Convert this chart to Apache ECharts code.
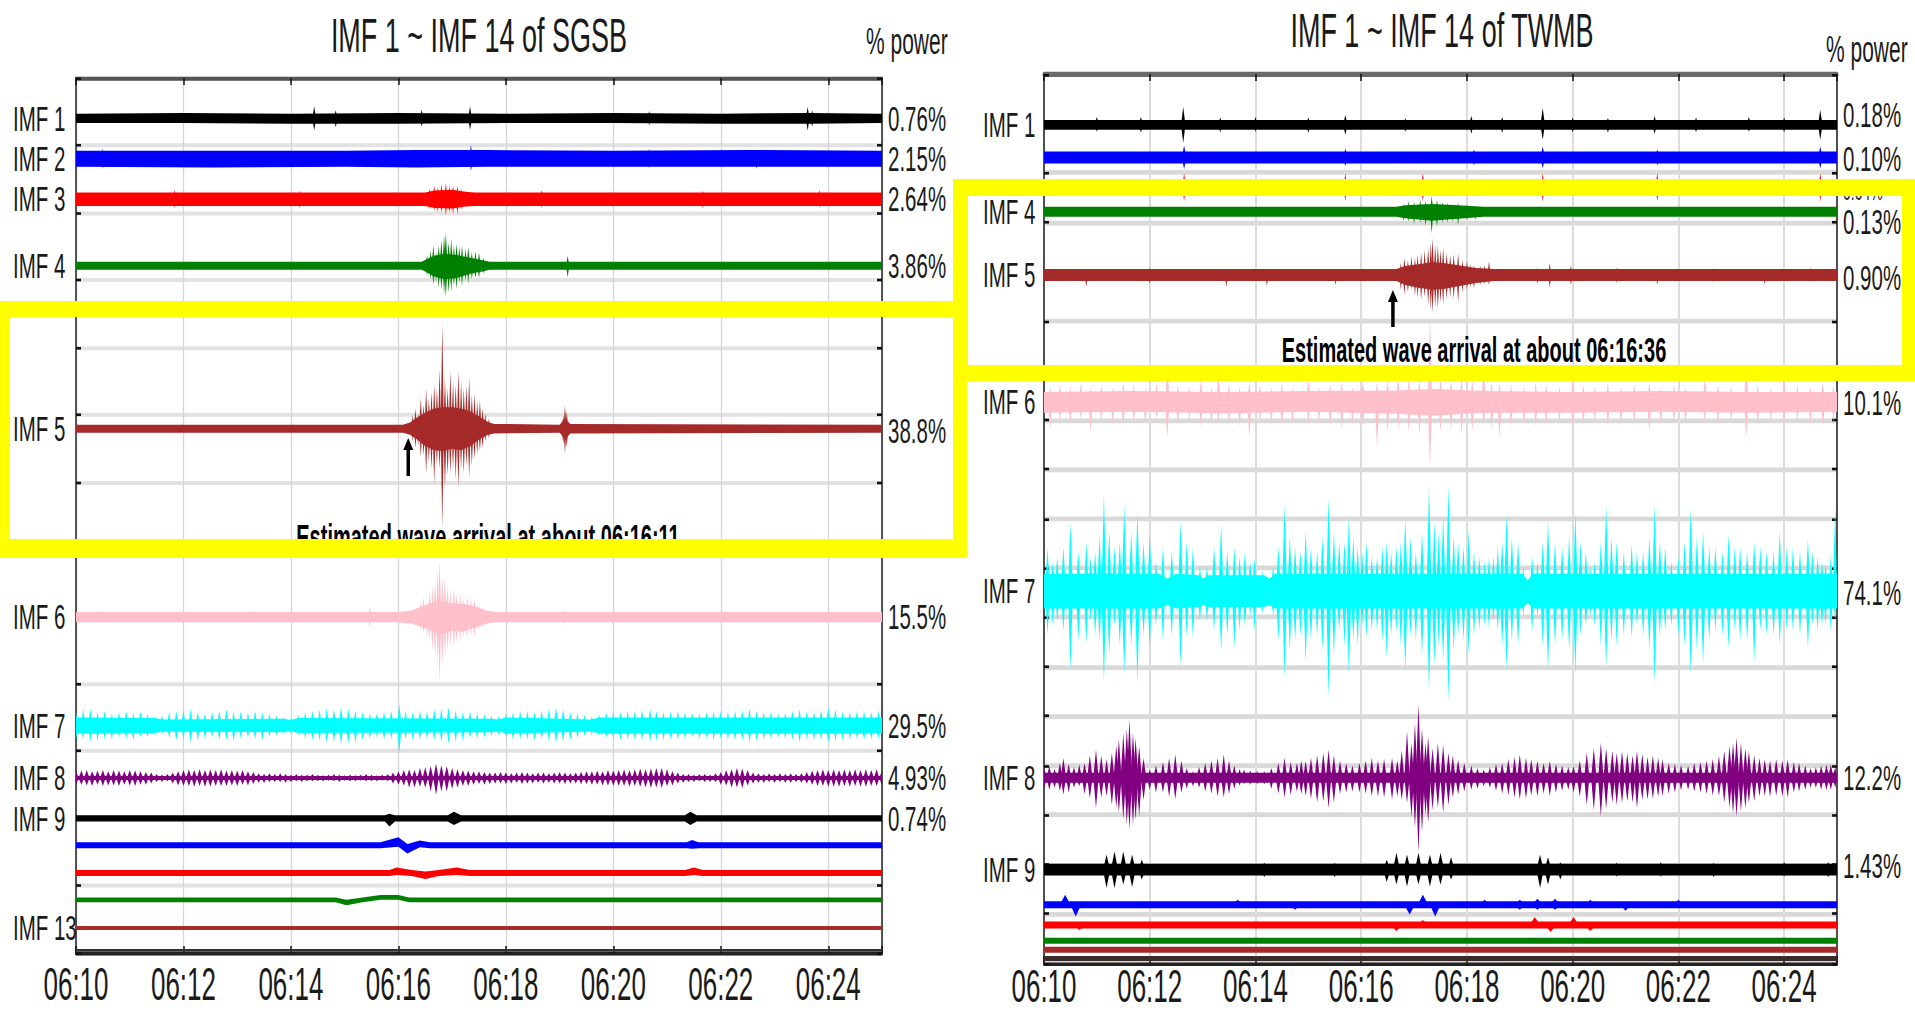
<!DOCTYPE html>
<html>
<head>
<meta charset="utf-8">
<script src="https://cdn.jsdelivr.net/npm/echarts@6/dist/echarts.min.js"></script>
<style>
html,body{margin:0;padding:0;background:#fff;}
#wrap{position:relative;width:1915px;height:1013px;overflow:hidden;background:#fff;}
#chart{position:absolute;left:0;top:0;width:1915px;height:578.857px;transform:scaleY(1.75);transform-origin:0 0;}
</style>
</head>
<body>
<div id="wrap"><div id="chart"></div></div>
<script>
// ---------------- DATA ----------------
// time axis: seconds after 06:10:00 (0 .. 900 = 06:25:00)
const xTickLabels = ['06:10','06:12','06:14','06:16','06:18','06:20','06:22','06:24'];
const panelTitles = ['IMF 1 ~ IMF 14 of SGSB', 'IMF 1 ~ IMF 14 of TWMB'];
const powerHeader = '% power';
const arrivalTimes = [371, 396];   // 06:16:11 and 06:16:36
const arrivalTexts = ['Estimated wave arrival at about 06:16:11', 'Estimated wave arrival at about 06:16:36'];

const sgLabels = ['IMF 1','IMF 2','IMF 3','IMF 4','IMF 5','IMF 6','IMF 7','IMF 8','IMF 9','','','','IMF 13',''];
const sgPower  = ['0.76%','2.15%','2.64%','3.86%','38.8%','15.5%','29.5%','4.93%','0.74%','','','','',''];
const twLabels = ['IMF 1','','','IMF 4','IMF 5','IMF 6','IMF 7','IMF 8','IMF 9','','','','',''];
const twPower  = ['0.18%','0.10%','0.04%','0.13%','0.90%','10.1%','74.1%','12.2%','1.43%','','','','',''];

// trace envelopes: [seconds, amplitude above baseline, amplitude below baseline] (axis units)
// ---- SGSB ----
const sgImf1Band = [[0,.07,.07],[120,.08,.07],[240,.07,.08],[360,.08,.08],[480,.07,.07],[600,.08,.07],[720,.07,.08],[820,.08,.08],[900,.07,.07]];
const sgImf1Spikes = [[266,.18,.18],[290,.12,.13],[386,.13,.12],[440,.18,.17],[640,.11,.1],[817,.17,.18],[822,.12,.12]];
const sgImf2Band = [[0,.12,.12],[150,.12,.13],[300,.12,.12],[380,.13,.13],[460,.13,.12],[600,.12,.12],[750,.13,.12],[900,.12,.12]];
const sgImf2Spikes = [[30,.15,.15],[441,.2,.18],[640,.15,.14],[760,.14,.15]];
const sgImf3Band = [[0,.1,.1],[390,.1,.1],[400,.13,.13],[420,.14,.14],[435,.11,.11],[445,.1,.1],[900,.1,.1]];
const sgImf3Spikes = [[110,.14,.13],[250,.13,.14],[395,.16,.15],[400,.2,.18],[404,.18,.2],[408,.22,.2],[413,.24,.24],[417,.2,.2],[421,.2,.22],[426,.2,.22],[430,.16,.16],[520,.14,.13],[700,.13,.14],[830,.14,.13]];
const sgImf4Band = [[0,.06,.06],[386,.06,.06],[392,.1,.1],[400,.15,.16],[412,.18,.2],[425,.16,.18],[440,.12,.12],[455,.08,.08],[462,.06,.06],[900,.06,.06]];
const sgImf4Spikes = [[392,.15,.14],[396,.22,.2],[399,.3,.28],[402,.2,.24],[405,.3,.33],[408,.38,.36],[411,.45,.42],[413,.5,.47],[416,.35,.4],[419,.4,.38],[422,.3,.3],[425,.33,.35],[428,.28,.25],[431,.3,.3],[435,.25,.22],[438,.28,.26],[442,.2,.2],[446,.22,.18],[450,.2,.18],[455,.12,.12],[549,.15,.17]];
const sgImf5Band = [[0,.06,.06],[365,.06,.06],[373,.09,.09],[380,.16,.15],[390,.24,.26],[400,.3,.32],[410,.32,.33],[420,.32,.3],[430,.3,.32],[440,.26,.26],[450,.18,.16],[460,.1,.09],[467,.07,.07],[540,.06,.06],[544,.12,.12],[548,.12,.13],[552,.07,.07],[900,.06,.06]];
const sgImf5Spikes = [[376,.2,.18],[379,.3,.28],[382,.22,.25],[385,.46,.42],[388,.35,.4],[391,.59,.67],[394,.45,.5],[397,.55,.6],[400,.67,.82],[403,.6,.55],[406,.89,.6],[409,1.56,1.47],[412,.74,.89],[415,.6,.7],[418,.86,.67],[421,.7,.6],[424,.65,.75],[427,.86,.88],[430,.7,.6],[433,.6,.67],[436,.65,.55],[439,.76,.73],[442,.5,.55],[445,.52,.45],[448,.4,.38],[451,.42,.33],[454,.3,.28],[457,.22,.18],[461,.15,.14],[544,.2,.22],[546,.34,.37],[548,.25,.28]];
const sgImf6Band = [[0,.075,.075],[360,.075,.075],[375,.1,.1],[390,.18,.16],[400,.22,.22],[410,.24,.25],[420,.2,.2],[432,.2,.22],[445,.16,.16],[458,.1,.1],[468,.075,.075],[900,.075,.075]];
const sgImf6Spikes = [[30,.1,.1],[200,.1,.1],[328,.15,.15],[385,.24,.2],[388,.3,.24],[392,.25,.3],[395,.4,.35],[398,.45,.5],[401,.55,.6],[404,.7,.65],[406,.85,.98],[409,.6,.7],[412,.6,.6],[415,.45,.5],[418,.4,.42],[422,.45,.45],[425,.35,.4],[429,.36,.39],[433,.3,.32],[437,.32,.3],[441,.3,.28],[445,.28,.3],[450,.2,.2],[455,.15,.15],[544,.12,.12],[720,.1,.1]];
const sgImf7Band = [[0,.12,.12],[88,.11,.11],[96,.09,.09],[232,.1,.1],[240,.08,.08],[248,.11,.11],[464,.1,.1],[472,.09,.09],[480,.12,.12],[576,.09,.09],[584,.12,.12],[900,.12,.12]];
const sgImf7Spikes = [[0,.2,.22],[8,.24,.2],[16,.25,.24],[24,.2,.23],[32,.22,.2],[40,.18,.21],[48,.2,.18],[56,.22,.2],[64,.19,.22],[72,.21,.18],[80,.17,.18],[88,.14,.15],[96,.15,.14],[104,.2,.19],[112,.21,.22],[120,.23,.2],[128,.24,.25],[136,.2,.22],[144,.18,.2],[152,.2,.18],[160,.22,.21],[168,.24,.22],[176,.2,.23],[184,.21,.19],[192,.19,.18],[200,.22,.2],[208,.2,.22],[216,.18,.17],[224,.15,.15],[232,.13,.13],[240,.12,.13],[248,.16,.15],[256,.2,.2],[264,.22,.21],[272,.24,.23],[280,.26,.26],[288,.24,.25],[296,.28,.28],[304,.25,.27],[312,.22,.26],[320,.2,.22],[328,.18,.2],[336,.19,.18],[344,.2,.21],[352,.22,.2],[361,.32,.42],[368,.22,.2],[376,.2,.22],[384,.22,.21],[392,.21,.2],[400,.24,.22],[408,.25,.25],[416,.27,.27],[424,.22,.24],[432,.2,.23],[440,.21,.19],[448,.18,.2],[456,.17,.18],[464,.15,.16],[472,.14,.15],[480,.18,.17],[488,.2,.22],[496,.21,.2],[504,.22,.21],[512,.2,.22],[520,.22,.2],[528,.24,.23],[536,.27,.26],[544,.24,.24],[552,.2,.22],[560,.18,.19],[568,.16,.16],[576,.14,.15],[584,.17,.16],[592,.2,.19],[600,.21,.2],[608,.2,.22],[616,.22,.21],[624,.21,.22],[632,.23,.22],[641,.25,.25],[648,.22,.23],[656,.2,.22],[664,.21,.2],[672,.22,.21],[680,.2,.2],[688,.19,.18],[696,.18,.2],[704,.2,.19],[712,.21,.22],[720,.22,.2],[728,.2,.21],[736,.22,.22],[744,.23,.22],[752,.25,.25],[760,.22,.23],[768,.2,.21],[776,.21,.2],[784,.18,.19],[792,.19,.2],[800,.22,.21],[808,.24,.25],[816,.21,.2],[824,.2,.22],[832,.23,.22],[840,.27,.26],[848,.24,.23],[856,.21,.22],[864,.2,.21],[872,.22,.2],[880,.21,.22],[888,.2,.21],[896,.22,.2]];
const sgImf8Band = [[0,.03,.03],[900,.03,.03]];
const sgImf8Spikes = [[0,.1,.1],[6,.11,.1],[12,.12,.11],[18,.1,.12],[24,.11,.1],[30,.12,.12],[36,.1,.11],[42,.12,.11],[48,.11,.12],[54,.1,.1],[60,.12,.11],[66,.11,.12],[72,.1,.1],[78,.09,.1],[84,.08,.08],[90,.06,.06],[96,.05,.06],[102,.06,.05],[108,.08,.08],[114,.1,.11],[120,.12,.12],[126,.13,.12],[132,.12,.13],[138,.13,.12],[144,.12,.13],[150,.13,.13],[156,.12,.12],[162,.13,.12],[168,.11,.12],[174,.12,.11],[180,.11,.12],[186,.12,.1],[192,.1,.11],[198,.09,.09],[204,.07,.07],[210,.06,.07],[216,.07,.06],[222,.06,.06],[228,.07,.06],[234,.06,.07],[240,.05,.06],[246,.06,.05],[252,.05,.06],[258,.05,.05],[264,.06,.05],[270,.05,.05],[276,.04,.05],[282,.05,.04],[288,.06,.05],[294,.05,.06],[300,.04,.04],[306,.05,.05],[312,.04,.05],[318,.05,.04],[324,.06,.05],[330,.05,.05],[336,.04,.05],[342,.05,.04],[348,.06,.05],[354,.08,.08],[360,.1,.1],[366,.12,.11],[372,.13,.14],[378,.12,.14],[384,.15,.13],[390,.16,.14],[396,.18,.2],[402,.21,.25],[408,.19,.2],[414,.18,.2],[420,.15,.16],[426,.13,.14],[432,.12,.12],[438,.11,.12],[444,.1,.1],[450,.1,.09],[456,.09,.1],[462,.08,.09],[468,.08,.08],[474,.09,.08],[480,.08,.09],[486,.07,.08],[492,.08,.07],[498,.09,.09],[504,.08,.08],[510,.07,.08],[516,.08,.07],[522,.08,.08],[528,.07,.07],[534,.08,.08],[540,.09,.08],[546,.08,.09],[552,.07,.08],[558,.08,.08],[564,.09,.09],[570,.1,.09],[576,.1,.1],[582,.11,.1],[588,.1,.11],[594,.12,.11],[600,.11,.12],[606,.12,.12],[612,.13,.12],[618,.12,.13],[624,.13,.12],[630,.14,.13],[636,.13,.14],[642,.14,.15],[648,.15,.14],[654,.15,.15],[660,.13,.12],[666,.1,.11],[672,.08,.08],[678,.06,.07],[684,.06,.06],[690,.05,.06],[696,.06,.05],[702,.06,.06],[708,.05,.06],[714,.07,.06],[720,.09,.1],[726,.12,.11],[732,.13,.14],[738,.15,.14],[744,.14,.15],[750,.12,.11],[756,.08,.08],[762,.07,.07],[768,.06,.07],[774,.07,.06],[780,.06,.07],[786,.07,.06],[792,.06,.07],[798,.07,.07],[804,.06,.06],[810,.07,.07],[816,.09,.08],[822,.11,.1],[828,.12,.12],[834,.13,.12],[840,.12,.13],[846,.13,.13],[852,.12,.13],[858,.13,.12],[864,.12,.13],[870,.13,.12],[876,.12,.13],[882,.13,.13],[888,.12,.12],[894,.13,.12],[900,.12,.12]];
const sgImf9Band = [[0,.045,.045],[345,.045,.045],[350,.07,.12],[356,.045,.045],[415,.045,.045],[422,.1,.1],[430,.045,.045],[680,.045,.045],[686,.1,.1],[693,.045,.045],[900,.045,.045]];
const sgImf10Band = [[0,.045,.045],[340,.045,.045],[360,.12,.02],[370,.02,.12],[384,.07,.03],[395,.045,.045],[682,.045,.045],[688,.08,.05],[695,.045,.045],[900,.045,.045]];
const sgImf11Band = [[0,.045,.045],[350,.045,.045],[358,.08,.03],[375,.045,.045],[390,.02,.09],[405,.045,.045],[425,.08,.03],[440,.045,.045],[680,.045,.045],[690,.08,.03],[700,.045,.045],[900,.045,.045]];
const sgImf12Band = [[0,.035,.035],[290,.035,.035],[302,0,.08],[320,.035,.035],[340,.07,0],[360,.07,0],[372,.035,.035],[900,.035,.035]];
const sgImf13Band = [[0,.03,.03],[900,.03,.03]];
const sgImf14Band = [[0,.02,.02],[900,.02,.02]];

// ---- TWMB ----
const twImf1Band = [[0,.1,.1],[900,.1,.1]];
const twImf1Spikes = [[60,.16,.14],[110,.16,.16],[158,.36,.36],[200,.15,.15],[240,.16,.14],[300,.15,.16],[342,.2,.2],[410,.14,.14],[485,.18,.18],[520,.16,.16],[566,.34,.3],[600,.15,.15],[640,.14,.16],[693,.18,.18],[740,.15,.15],[800,.16,.14],[840,.15,.15],[881,.3,.3]];
const twImf2Band = [[0,.12,.12],[900,.12,.12]];
const twImf2Spikes = [[159,.24,.24],[342,.18,.18],[488,.16,.16],[566,.22,.22],[696,.16,.16],[881,.22,.22]];
const twImf3Band = [[0,.1,.1],[900,.1,.1]];
const twImf3Spikes = [[159,.28,.28],[342,.28,.28],[430,.28,.28],[566,.28,.28],[696,.28,.28],[881,.28,.28]];
const twImf4Band = [[0,.1,.1],[400,.1,.1],[410,.13,.13],[440,.16,.18],[470,.13,.14],[499,.1,.1],[900,.1,.1]];
const twImf4Spikes = [[408,.16,.18],[414,.22,.2],[420,.2,.24],[427,.24,.22],[433,.22,.28],[440,.32,.44],[446,.24,.3],[452,.2,.22],[458,.18,.22],[464,.16,.2],[470,.18,.26],[480,.14,.16],[490,.12,.16]];
const twImf5Band = [[0,.12,.12],[400,.12,.12],[410,.18,.2],[425,.22,.26],[441,.26,.3],[455,.24,.28],[470,.2,.23],[490,.14,.16],[511,.12,.12],[900,.12,.12]];
const twImf5Spikes = [[48,.1,.24],[120,.15,.18],[207,.1,.24],[253,.12,.22],[331,.1,.2],[405,.25,.3],[409,.34,.4],[413,.3,.35],[417,.38,.3],[421,.35,.42],[424,.4,.45],[428,.45,.5],[432,.5,.45],[436,.55,.6],[439,.65,.7],[441,.75,.77],[444,.6,.65],[447,.6,.7],[450,.5,.55],[453,.55,.6],[457,.45,.5],[461,.4,.45],[465,.42,.48],[470,.43,.55],[475,.3,.35],[480,.28,.3],[484,.22,.25],[488,.2,.27],[495,.18,.2],[500,.2,.18],[505,.28,.2],[560,.15,.18],[574,.24,.25],[598,.2,.2],[650,.15,.16],[696,.12,.2],[760,.14,.15],[818,.12,.2],[870,.15,.14]];
const twImf6Band = [[0,.2,.22],[100,.22,.2],[200,.2,.23],[300,.22,.2],[400,.23,.24],[440,.26,.28],[500,.22,.22],[600,.2,.22],[700,.22,.2],[800,.2,.22],[900,.2,.2]];
const twImf6Spikes = [[7,.3,.53],[18,.35,.4],[30,.3,.45],[42,.4,.35],[53,.3,.62],[65,.35,.4],[78,.3,.45],[90,.4,.5],[102,.35,.4],[115,.3,.45],[128,.4,.35],[140,.8,.72],[152,.35,.45],[165,.3,.4],[178,.45,.5],[190,.3,.45],[198,.6,.4],[210,.35,.45],[222,.3,.5],[233,.4,.72],[245,.35,.4],[258,.3,.45],[270,.4,.5],[282,.3,.42],[300,.5,.45],[312,.3,.4],[325,.35,.5],[338,.4,.55],[350,.3,.45],[362,.45,.5],[378,.4,.93],[390,.45,.6],[402,.5,.55],[414,.5,.6],[426,.45,.65],[438,1.7,1.34],[450,.5,.6],[462,.45,.55],[474,.5,.65],[486,.45,.6],[499,.7,.5],[508,.4,.55],[517,.4,.72],[530,.35,.5],[545,.3,.45],[558,.4,.5],[570,.35,.45],[585,.3,.4],[600,.45,.5],[612,.35,.45],[625,.3,.4],[640,.4,.5],[655,.3,.45],[670,.35,.4],[687,.4,.59],[700,.3,.45],[715,.35,.4],[728,.3,.45],[750,.5,.4],[765,.35,.45],[780,.3,.4],[797,.8,.72],[810,.35,.45],[825,.3,.4],[840,.5,.45],[855,.35,.4],[870,.3,.45],[884,.4,.5],[896,.35,.4]];
const twImf7Band = [[0,.35,.35],[130,.35,.35],[140,.25,.28],[150,.35,.35],[176,.32,.32],[181,.25,.28],[186,.32,.32],[250,.32,.32],[256,.25,.28],[262,.35,.35],[543,.35,.35],[549,.22,.24],[555,.35,.35],[900,.35,.35]];
const twImf7Spikes = [[4,.88,.88],[15,.7,.6],[30,1.38,1.59],[48,1.0,1.05],[58,.8,.9],[68,1.96,1.82],[80,.9,.7],[91,1.75,1.69],[106,1.59,1.86],[120,1.15,1.15],[135,.9,1.0],[155,1.42,1.52],[169,.88,.94],[185,.5,.6],[201,1.35,1.21],[216,.88,1.15],[228,.8,.7],[239,.67,.78],[260,.5,.5],[273,1.75,1.75],[285,.9,1.0],[297,1.21,1.42],[310,.8,.9],[323,1.89,2.16],[335,1.0,.8],[346,1.48,1.69],[356,.9,1.1],[366,1.0,.94],[378,.7,.8],[389,1.0,1.35],[400,.9,.8],[410,1.48,1.62],[422,.8,1.0],[437,2.13,2.02],[448,1.2,1.1],[459,2.13,2.23],[470,1.0,.9],[482,1.21,1.28],[494,.7,.8],[505,.67,.74],[515,.9,.8],[525,1.55,1.59],[538,1.0,1.1],[560,.6,.5],[572,1.42,1.59],[588,.9,1.0],[603,1.59,1.69],[615,.8,.7],[625,.6,.7],[638,1.75,1.52],[650,1.0,1.1],[667,.94,.94],[680,.8,.9],[693,1.75,1.86],[705,.9,.8],[720,.7,.9],[734,1.69,1.69],[748,1.21,1.48],[762,.9,.8],[777,1.15,1.15],[790,.9,1.0],[806,1.0,1.42],[820,.8,.9],[835,1.21,1.08],[850,.9,.8],[867,1.05,1.15],[878,.7,.8],[887,.54,.67],[898,1.69,.6],
  [10,.6,.7],[22,.9,.8],[39,.8,1.0],[53,.7,.6],[63,1.1,1.0],[74,1.2,1.3],[86,1.0,1.1],[99,1.2,1.1],[113,1.0,.9],[127,.6,.7],[145,.8,.9],[162,1.0,.9],[177,.5,.6],[193,.9,.8],[208,.8,.9],[222,.7,.8],[234,.6,.5],[248,.4,.45],[266,.9,1.0],[279,1.1,1.2],[291,.8,.9],[303,.9,1.0],[316,1.1,1.2],[329,1.2,1.3],[341,1.0,1.1],[351,1.1,1.0],[361,.8,.7],[372,.7,.8],[384,.9,1.0],[394,.8,.9],[405,1.0,1.1],[416,1.1,.9],[429,1.2,1.3],[443,1.4,1.5],[453,1.5,1.4],[465,1.1,1.2],[476,.9,1.0],[488,.8,.9],[500,.6,.7],[510,.7,.6],[520,1.0,1.1],[531,1.1,1.0],[544,.5,.5],[554,.7,.8],[566,1.0,1.1],[580,1.0,1.1],[596,1.1,1.2],[609,1.0,.9],[620,.5,.5],[632,1.0,1.1],[644,1.1,1.0],[658,.8,.9],[673,.8,.7],[687,1.1,1.2],[699,1.0,.9],[712,.6,.7],[727,1.0,1.1],[741,1.1,1.2],[755,.9,1.0],[770,.8,.9],[784,.9,.8],[798,.8,1.0],[813,.9,.8],[828,.8,.9],[843,.9,.8],[858,.8,.9],[872,.8,.7],[883,.6,.7],[893,.7,.8]];
const twImf8Band = [[0,.1,.1],[900,.1,.1]];
const twImf8Spikes = [[0,.2,.22],[6,.24,.24],[12,.18,.2],[18,.3,.26],[22,.4,.34],[28,.28,.3],[34,.22,.2],[40,.27,.17],[46,.3,.33],[52,.45,.42],[59,.57,.61],[65,.45,.4],[71,.37,.37],[77,.5,.55],[82,.65,.6],[85,.78,.71],[90,.9,.85],[94,1.0,.95],[97,1.18,1.05],[101,.9,.95],[104,.8,.85],[108,.64,.78],[113,.4,.45],[120,.17,.24],[127,.25,.3],[135,.32,.3],[142,.4,.38],[149,.47,.44],[156,.35,.3],[162,.2,.22],[169,.13,.17],[176,.22,.2],[183,.3,.28],[190,.35,.32],[197,.4,.38],[204,.47,.4],[210,.35,.33],[216,.25,.22],[222,.18,.16],[227,.17,.13],[234,.15,.14],[242,.14,.13],[250,.13,.13],[258,.2,.22],[266,.3,.32],[273,.4,.4],[280,.32,.35],[287,.3,.28],[292,.35,.33],[297,.34,.37],[303,.4,.42],[310,.45,.5],[317,.5,.48],[323,.57,.61],[329,.45,.5],[336,.35,.33],[343,.3,.3],[350,.25,.28],[358,.3,.3],[365,.35,.32],[372,.4,.37],[379,.35,.38],[386,.38,.4],[395,.4,.44],[401,.35,.38],[406,.55,.45],[412,.94,.51],[417,.7,.8],[421,1.1,1.0],[425,1.48,1.52],[429,1.0,1.1],[433,.7,.75],[436,.84,.91],[441,.6,.65],[447,.7,.6],[453,.67,.71],[459,.5,.55],[464,.45,.4],[470,.37,.34],[477,.3,.28],[485,.25,.24],[492,.2,.22],[499,.17,.17],[506,.22,.2],[513,.28,.26],[520,.3,.32],[527,.38,.35],[534,.42,.4],[540,.47,.44],[547,.4,.42],[553,.38,.36],[560,.35,.38],[567,.3,.32],[574,.34,.37],[581,.28,.3],[588,.25,.26],[595,.22,.24],[601,.24,.3],[608,.35,.38],[616,.5,.55],[624,.6,.65],[632,.71,.78],[638,.6,.62],[645,.55,.5],[650,.5,.55],[656,.54,.51],[662,.5,.48],[668,.45,.5],[673,.54,.61],[679,.48,.45],[685,.42,.44],[691,.45,.42],[697,.4,.38],[702,.37,.37],[709,.3,.32],[716,.28,.3],[723,.26,.25],[731,.24,.24],[738,.3,.28],[745,.32,.3],[752,.35,.33],[759,.38,.36],[766,.44,.37],[772,.55,.5],[778,.65,.6],[782,.7,.72],[786,.81,.78],[791,.7,.68],[796,.6,.62],[800,.54,.51],[806,.45,.48],[812,.4,.38],[818,.37,.37],[824,.35,.38],[831,.38,.36],[838,.35,.38],[844,.37,.4],[851,.32,.3],[857,.3,.28],[864,.25,.24],[870,.2,.2],[876,.22,.2],[882,.25,.24],[888,.27,.25],[893,.27,.24],[898,.22,.2]];
const twImf9Band = [[0,.12,.12],[900,.12,.12]];
const twImf9Spikes = [[71,.3,.37],[80,.37,.37],[90,.37,.3],[100,.3,.35],[111,.2,.2],[250,.14,.15],[330,.14,.15],[389,.2,.25],[400,.34,.3],[412,.3,.34],[425,.34,.3],[438,.3,.34],[450,.34,.3],[462,.25,.2],[563,.3,.37],[572,.25,.3],[586,.15,.2],[650,.14,.14],[700,.15,.14],[760,.14,.15],[840,.15,.14],[890,.15,.15]];
const twImf10Band = [[0,.07,.07],[900,.07,.07]];
const twImf10Spikes = [[24,.2,.05],[36,.05,.24],[220,.1,.05],[285,.05,.1],[415,.05,.2],[430,.2,.05],[444,.05,.24],[500,.1,.05],[540,.1,.1],[560,.12,.1],[580,.12,.1],[620,.1,.05],[660,.05,.12],[720,.1,.05]];
const twImf11Band = [[0,.07,.07],[900,.07,.07]];
const twImf11Spikes = [[40,.05,.1],[400,.05,.12],[430,.1,.05],[557,.16,.05],[575,.05,.14],[601,.16,.05],[620,.05,.12]];
const twImf12Band = [[0,.06,.06],[900,.06,.06]];
const twImf13Band = [[0,.06,.06],[900,.06,.06]];
const twImf14Band = [[0,.05,.05],[900,.05,.05]];

// ---------------- LAYOUT / STYLE ----------------
const K = 1.75;                    // vertical stretch of the whole figure
const FONT = '"Liberation Sans", Arial, sans-serif';
const imfColors = ['#000000','#0000ff','#ff0000','#008000','#a52a2a','#ffc0cb','#00ffff','#800080','#000000','#0000ff','#ff0000','#008000','#a52a2a','#3b2b2b'];
const sgBase = [0.60,1.20,1.80,2.79,5.21,8.01,9.62,10.40,11.00,11.40,11.81,12.21,12.63,12.96];
const twBase = [1.03,1.69,2.29,2.79,4.07,6.64,10.47,14.25,16.11,16.82,17.23,17.55,17.73,17.91];
const sgPowerDy = [0,0,0,0,2,0,0,0,0,0,0,0,0,0];      // label nudges, final px
const twPowerDy = [-10,1,4,10,3,1,2,0,-4,0,0,0,0,0];
const sgBands = [sgImf1Band,sgImf2Band,sgImf3Band,sgImf4Band,sgImf5Band,sgImf6Band,sgImf7Band,sgImf8Band,sgImf9Band,sgImf10Band,sgImf11Band,sgImf12Band,sgImf13Band,sgImf14Band];
const sgSpikes = [sgImf1Spikes,sgImf2Spikes,sgImf3Spikes,sgImf4Spikes,sgImf5Spikes,sgImf6Spikes,sgImf7Spikes,sgImf8Spikes,null,null,null,null,null,null];
const sgSpikeW = [2,2,1.8,1.8,1.8,1.8,2.6,3,0,0,0,0,0,0];
const twBands = [twImf1Band,twImf2Band,twImf3Band,twImf4Band,twImf5Band,twImf6Band,twImf7Band,twImf8Band,twImf9Band,twImf10Band,twImf11Band,twImf12Band,twImf13Band,twImf14Band];
const twSpikes = [twImf1Spikes,twImf2Spikes,twImf3Spikes,twImf4Spikes,twImf5Spikes,twImf6Spikes,twImf7Spikes,twImf8Spikes,twImf9Spikes,twImf10Spikes,twImf11Spikes,null,null,null];
const twSpikeW = [2.5,2.5,2,1.8,1.8,2.5,2.8,3,4,6,6,0,0,0];

function Y(v){ return v / K; }

const chart = echarts.init(document.getElementById('chart'), null, {renderer:'svg', width:1915, height:1013 / K});

function xAx(gi, pos) {
  const bottom = pos === 'bottom';
  return {
    type:'value', gridIndex:gi, position:pos, min:0, max:900, interval:120,
    axisLine:{show:true, onZero:false, lineStyle:{color: bottom ? '#222' : (gi===0 ? '#555' : '#6a6a6a'), width: bottom ? 2 : (gi===0 ? 2.2 : 3)}},
    axisTick:{show:true, inside:true, length:4, lineStyle:{color:'#111', width:1.5}},
    axisLabel:{show:bottom, margin: gi===0 ? 7 : 2, fontSize:26, lineHeight:22, color:'#1a1a1a', fontFamily:FONT,
      formatter: v => (Number.isInteger(v/120) && xTickLabels[v/120]) ? xTickLabels[v/120] : ''},
    splitLine:{show:bottom, lineStyle:{color: gi===0 ? '#d6d6d6' : '#dcdcdc', width: gi===0 ? 1.3 : 2}}
  };
}
function yAx(gi, pos, max) {
  return {
    type:'value', gridIndex:gi, position:pos, min:0, max:max, interval:1, inverse:true,
    axisLine:{show:true, onZero:false, lineStyle:{color:'#222', width:1.5}},
    axisTick:{show:true, inside:true, length:5, lineStyle:{color:'#111', width:1.5}},
    axisLabel:{show:false},
    splitLine:{show: pos==='left', lineStyle:{color: gi===0 ? '#e2e2e2' : '#d9d9d9', width: gi===0 ? 2.2 : 2.6}}
  };
}

function bandSeries(gi, base, band, color) {
  const pts = band.map(d => [d[0], base - d[1], base + d[2]]);
  return {
    type:'custom', xAxisIndex: gi*2, yAxisIndex: gi*2, silent:true, animation:false, z:3,
    data: pts, encode:{x:0, y:[1,2]},
    renderItem(params, api) {
      if (params.dataIndex !== 0) return null;
      const top = pts.map(p => api.coord([p[0], p[1]]));
      const bot = pts.map(p => api.coord([p[0], p[2]])).reverse();
      return {type:'polygon', shape:{points: top.concat(bot)}, style:{fill: color}};
    }
  };
}
function spikeSeries(gi, base, spikes, color, hw) {
  return {
    type:'custom', xAxisIndex: gi*2, yAxisIndex: gi*2, silent:true, animation:false, z:3,
    data: spikes.map(d => [d[0], base - d[1], base + d[2]]), encode:{x:0, y:[1,2]},
    renderItem(params, api) {
      const t = api.value(0), a = api.value(1), b = api.value(2);
      const pts = [api.coord([Math.max(0, t - hw), base]), api.coord([t, a]), api.coord([Math.min(900, t + hw), base]), api.coord([t, b])];
      return {type:'polygon', shape:{points: pts}, style:{fill: color}};
    }
  };
}

const series = [];
[[0, sgBase, sgBands, sgSpikes, sgSpikeW], [1, twBase, twBands, twSpikes, twSpikeW]].forEach(([gi, bases, bands, spikes, ws]) => {
  for (let i = 0; i < bands.length; i++) {
    series.push(bandSeries(gi, bases[i], bands[i], imfColors[i]));
    if (spikes[i]) series.push(spikeSeries(gi, bases[i], spikes[i], imfColors[i], ws[i]));
  }
});

chart.setOption({
  backgroundColor:'#ffffff',
  animation:false,
  grid:[
    {left:76, top:Y(78), width:806, height:Y(953-78)},
    {left:1044, top:Y(74), width:793, height:Y(963-74)}
  ],
  xAxis:[xAx(0,'bottom'), xAx(0,'top'), xAx(1,'bottom'), xAx(1,'top')],
  yAxis:[yAx(0,'left',13), yAx(0,'right',13), yAx(1,'left',18), yAx(1,'right',18)],
  series: series
});

// ---------------- TEXT / ANNOTATIONS ----------------
function txt(text, x, y, size, align, weight, lh) {
  return {
    type:'text', x:x, y:y, z:40, silent:true,
    style:{text:text, fill: weight ? '#000' : '#1a1a1a', fontSize:size, lineHeight: lh || size, fontFamily:FONT, fontWeight: weight || 'normal',
      align:align, verticalAlign:'middle', textAlign:align, textVerticalAlign:'middle'}
  };
}
const g = [];
g.push(txt(panelTitles[0], 479, Y(35), 27, 'center'));
g.push(txt(panelTitles[1], 1442, Y(30), 27, 'center'));
g.push(txt(powerHeader, 866, Y(41), 21, 'left'));
g.push(txt(powerHeader, 1826, Y(49), 21, 'left'));

[[0, sgBase, sgLabels, sgPower, sgPowerDy, 13, 888], [1, twBase, twLabels, twPower, twPowerDy, 983, 1843]].forEach(([gi, bases, labs, pows, dys, lx, px]) => {
  for (let i = 0; i < bases.length; i++) {
    const y = chart.convertToPixel({xAxisIndex: gi*2, yAxisIndex: gi*2}, [0, bases[i]])[1];
    if (labs[i]) g.push(txt(labs[i], lx, y, 20.5, 'left', null, 17));
    if (pows[i]) {
      const small = (gi === 1 && i === 2);
      g.push(txt(pows[i], px, y + Y(dys[i]), small ? 14 : 20.5, 'left', null, small ? 12 : 17));
    }
  }
});

// arrows at the estimated arrival times
const arrowY = [[476, 438], [327, 290]];
[0, 1].forEach(gi => {
  const x = chart.convertToPixel({xAxisIndex: gi*2, yAxisIndex: gi*2}, [arrivalTimes[gi], 0])[0];
  const y1 = Y(arrowY[gi][0]), y2 = Y(arrowY[gi][1]);
  g.push({type:'line', z:41, silent:true, shape:{x1:x, y1:y1, x2:x, y2:y2 + Y(8)}, style:{stroke:'#000', lineWidth:3.5}});
  g.push({type:'polygon', z:41, silent:true, shape:{points:[[x - 5, y2 + Y(12)], [x, y2], [x + 5, y2 + Y(12)]]}, style:{fill:'#000'}});
});
g.push(txt(arrivalTexts[0], 488, Y(537), 20, 'center', 'bold'));
g.push(txt(arrivalTexts[1], 1474, Y(350), 20, 'center', 'bold'));

// yellow highlight frames (final pixel edges)
function frame(x0, x1, y0, y1, tTop, tBot, tL, tR) {
  const st = {fill:'#ffff00'};
  return [
    {type:'rect', z:60, silent:true, shape:{x:x0, y:Y(y0), width:x1-x0, height:Y(tTop)}, style:st},
    {type:'rect', z:60, silent:true, shape:{x:x0, y:Y(y1 - tBot), width:x1-x0, height:Y(tBot)}, style:st},
    {type:'rect', z:60, silent:true, shape:{x:x0, y:Y(y0), width:tL, height:Y(y1-y0)}, style:st},
    {type:'rect', z:60, silent:true, shape:{x:x1 - tR, y:Y(y0), width:tR, height:Y(y1-y0)}, style:st}
  ];
}
frame(0, 967, 301, 558, 16, 19, 10, 14).forEach(e => g.push(e));
frame(953, 1915, 179, 381, 17, 16, 15, 13).forEach(e => g.push(e));

chart.setOption({graphic: g});
</script>
</body>
</html>
